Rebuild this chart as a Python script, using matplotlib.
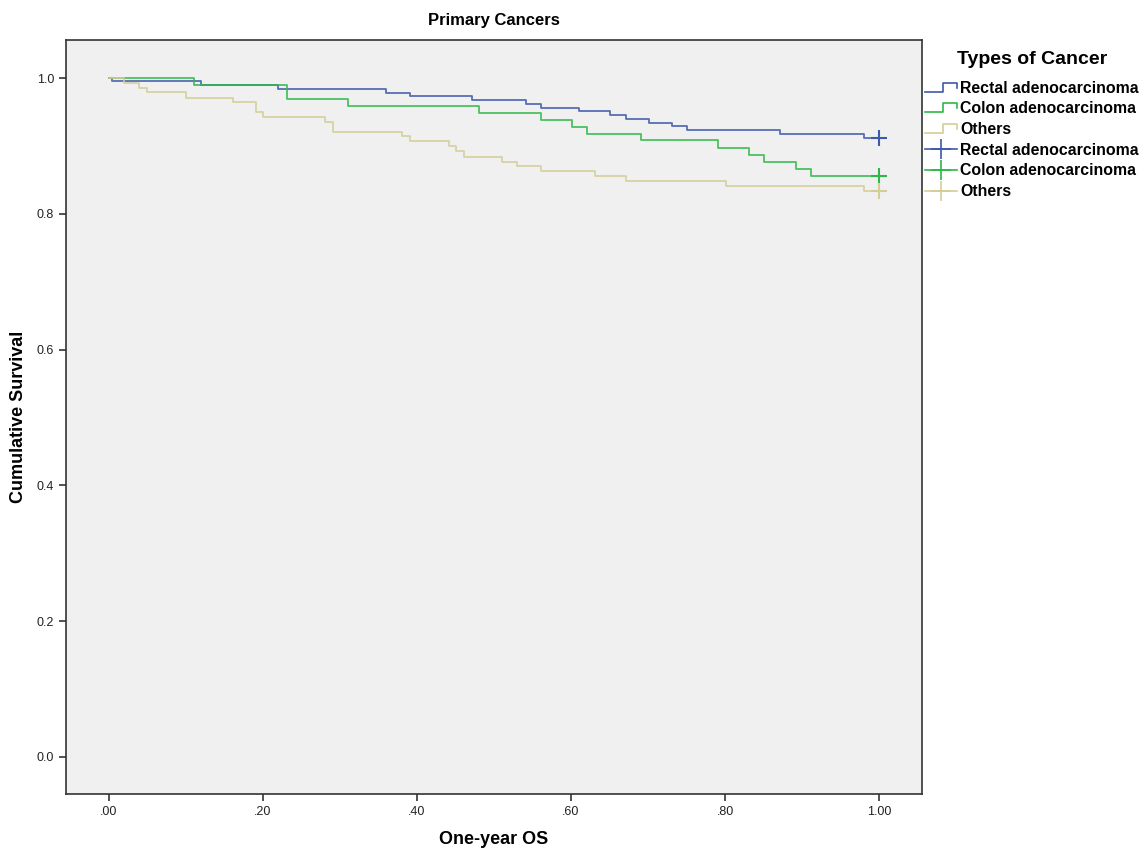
import matplotlib
matplotlib.use("Agg")
import matplotlib.pyplot as plt
from matplotlib.legend_handler import HandlerBase
from matplotlib.lines import Line2D

plt.rcParams['font.family'] = ['Liberation Sans', 'DejaVu Sans']

groups = ["Rectal adenocarcinoma", "Colon adenocarcinoma", "Others"]
colors = ["#3E58AC", "#2EB848", "#D3CE97"]

rectal_t = [0.0, 0.004, 0.120, 0.220, 0.360, 0.391, 0.471, 0.541, 0.561, 0.611, 0.651, 0.671, 0.701, 0.731, 0.751, 0.871, 0.981, 1.0]
rectal_s = [1.0, 0.995, 0.990, 0.984, 0.978, 0.973, 0.967, 0.962, 0.956, 0.951, 0.946, 0.940, 0.934, 0.929, 0.923, 0.918, 0.912, 0.912]

colon_t = [0.0, 0.111, 0.231, 0.311, 0.481, 0.561, 0.601, 0.621, 0.691, 0.791, 0.831, 0.851, 0.892, 0.912, 1.0]
colon_s = [1.0, 0.990, 0.969, 0.959, 0.949, 0.938, 0.928, 0.918, 0.908, 0.897, 0.887, 0.877, 0.866, 0.856, 0.856]

others_t = [0.0, 0.020, 0.039, 0.050, 0.100, 0.161, 0.191, 0.200, 0.281, 0.291, 0.381, 0.391, 0.441, 0.451, 0.461, 0.511, 0.530, 0.561, 0.631, 0.671, 0.801, 0.981, 1.0]
others_s = [1.0, 0.993, 0.986, 0.979, 0.971, 0.964, 0.950, 0.943, 0.935, 0.921, 0.914, 0.907, 0.900, 0.892, 0.884, 0.877, 0.870, 0.863, 0.856, 0.849, 0.841, 0.834, 0.834]

censor_t = [1.0, 1.0, 1.0]
censor_s = [0.912, 0.856, 0.834]

x_ticks = [0.0, 0.2, 0.4, 0.6, 0.8, 1.0]
x_labels = [".00", ".20", ".40", ".60", ".80", "1.00"]
y_ticks = [0.0, 0.2, 0.4, 0.6, 0.8, 1.0]
y_labels = ["0.0", "0.2", "0.4", "0.6", "0.8", "1.0"]

W, H = 1141, 850
fig = plt.figure(figsize=(W / 100, H / 100), dpi=100)
ax = fig.add_axes([66/W, 1-794/H, (922-66)/W, (794-40)/H])
ax.set_facecolor("#F0F0F0")

series = [(rectal_t, rectal_s), (colon_t, colon_s), (others_t, others_s)]
for (t, s), c in zip(series, colors):
    ax.step(t, s, where='post', color=c, lw=1.3, alpha=0.85)
for i, c in enumerate(colors):
    ax.plot(censor_t[i], censor_s[i], marker='+', color=c, markersize=11, mew=1.5, ls='none')

ax.set_xlim(-0.0558, 1.0558)
ax.set_ylim(-0.0545, 1.056)
ax.set_xticks(x_ticks)
ax.set_xticklabels(x_labels)
ax.set_yticks(y_ticks)
ax.set_yticklabels(y_labels)
ax.tick_params(labelsize=9, length=5, width=1.2, color="#333333", labelcolor="#222222")
for sp in ax.spines.values():
    sp.set_linewidth(1.2)
    sp.set_color("#333333")

fig.text(494/W, 1-20/H, "Primary Cancers", fontsize=12, fontweight='bold', ha='center', va='center')
fig.text(494/W, 1-840/H, "One-year OS", fontsize=13, fontweight='bold', ha='center', va='center')
fig.text(19/W, 1-417/H, "Cumulative Survival", fontsize=13, fontweight='bold', ha='center', va='center', rotation=90)


class StepHandler(HandlerBase):
    def __init__(self, color):
        super().__init__()
        self.color = color

    def create_artists(self, legend, orig_handle, xdescent, ydescent, width, height, fontsize, trans):
        x0 = -xdescent
        y0 = -ydescent
        xs = [x0, x0 + width * 0.55, x0 + width * 0.55, x0 + width, x0 + width]
        ys = [y0 + height * 0.1, y0 + height * 0.1, y0 + height * 0.9, y0 + height * 0.9, y0 + height * 0.45]
        ln = Line2D(xs, ys, color=self.color, lw=1.2, transform=trans)
        return [ln]


class StepProxy:
    pass


handles = []
labels = []
handler_map = {}
for g, c in zip(groups, colors):
    h = StepProxy()
    handles.append(h)
    labels.append(g)
    handler_map[h] = StepHandler(c)
for g, c in zip(groups, colors):
    h = Line2D([], [], color=c, lw=1.2, marker='+', markersize=15, mew=1.2)
    handles.append(h)
    labels.append(g)

leg = fig.legend(handles, labels, handler_map=handler_map, loc='upper left',
                 bbox_to_anchor=(922/W, 1-48/H), frameon=False,
                 title="Types of Cancer", prop={'size': 11.4, 'weight': 'bold'},
                 handlelength=2.0, handletextpad=0.2, labelspacing=0.36,
                 borderpad=0.2, borderaxespad=0.0)
leg.get_title().set_fontsize(14)
leg.get_title().set_fontweight('bold')
leg._legend_box.align = "center"
leg._legend_box.sep = 9

fig.savefig("out.png", dpi=100)
